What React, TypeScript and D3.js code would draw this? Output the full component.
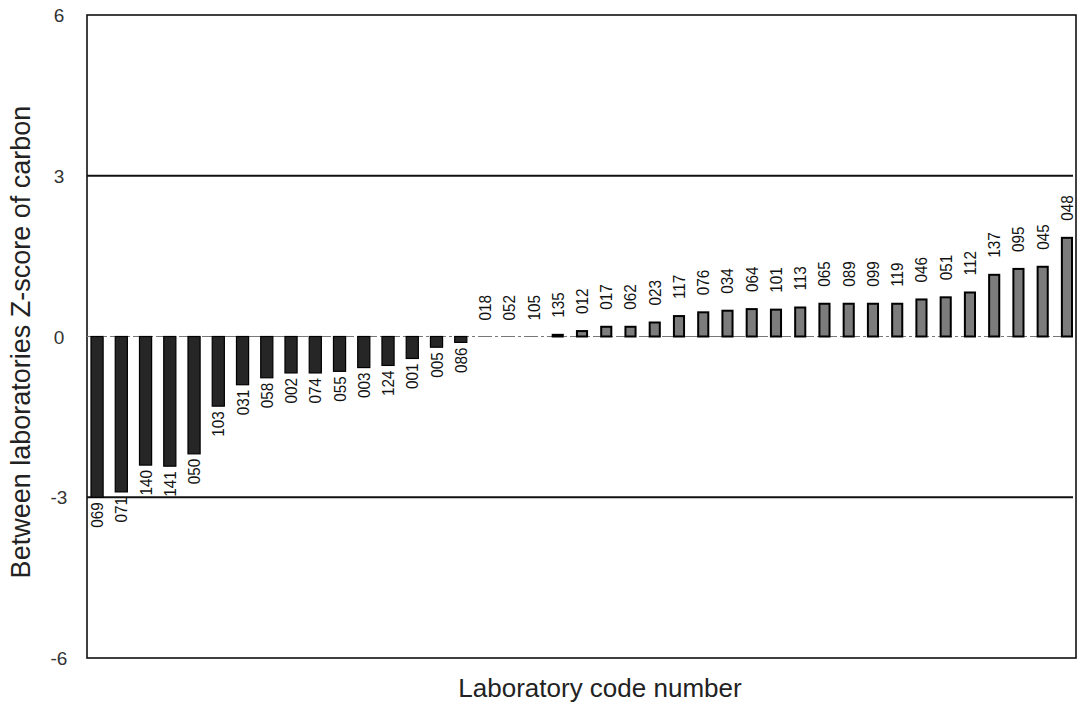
import React from "react";
import * as d3 from "d3";

const labCodes = ["069","071","140","141","050","103","031","058","002","074","055","003","124","001","005","086","018","052","105","135","012","017","062","023","117","076","034","064","101","113","065","089","099","119","046","051","112","137","095","045","048"];
const zScores = [-3.0,-2.9,-2.4,-2.42,-2.19,-1.3,-0.9,-0.77,-0.68,-0.68,-0.65,-0.58,-0.54,-0.41,-0.2,-0.11,0,0,0,0.05,0.12,0.2,0.2,0.28,0.4,0.47,0.5,0.53,0.52,0.56,0.63,0.63,0.63,0.63,0.71,0.75,0.84,1.17,1.28,1.32,1.86];
const yTicks = [-6, -3, 0, 3, 6];
const limitLines = [-3, 3];

const W = 1077, H = 703;
const L = 87, R = 1076, T = 15, B = 658;

export default function App() {
  const x = d3.scaleBand<string>().domain(labCodes).range([91, 1073]).paddingInner(0.5).paddingOuter(0);
  const y = d3.scaleLinear().domain([-6, 6]).range([B, T]);
  const font = "'Liberation Sans', Arial, sans-serif";
  return (
    <svg width={W} height={H} style={{ position: "absolute", left: 0, top: 0, background: "#fff" }} fontFamily={font}>
      <rect x={0} y={0} width={W} height={H} fill="#fff" />
      <rect x={L} y={T} width={R - L} height={B - T} fill="none" stroke="#111" strokeWidth={1.6} />
      {limitLines.map((v) => (
        <line key={v} x1={L} x2={R - 3} y1={y(v)} y2={y(v)} stroke="#111" strokeWidth={2} />
      ))}
      <line x1={L} x2={R} y1={y(0)} y2={y(0)} stroke="#777" strokeWidth={1} strokeDasharray="14 3 3 3" />
      {yTicks.map((t) => (
        <text key={t} x={59} y={y(t) + 7} textAnchor="middle" fontSize={19} fill="#333">{t}</text>
      ))}
      {labCodes.map((c, i) => {
        const v = zScores[i];
        const bx = x(c)!;
        const bw = x.bandwidth();
        const y0 = y(0), y1 = y(v);
        const top = Math.min(y0, y1);
        const h = Math.abs(y1 - y0);
        const cx = bx + bw / 2;
        const neg = v < 0;
        const ly = neg ? y1 + 5 : y1 - 16;
        return (
          <g key={c}>
            {h > 0.5 && (
              neg ? (
                <rect x={bx} y={top} width={bw} height={h} fill="#262626" stroke="#000" strokeWidth={1.2} />
              ) : (
                <rect x={bx + 1} y={top + 1} width={bw - 2} height={Math.max(h - 1, 1)} fill="#7c7c7c" stroke="#000" strokeWidth={2} />
              )
            )}
            <text transform={`translate(${cx + 6},${ly}) rotate(-90) scale(0.9,1)`} textAnchor={neg ? "end" : "start"} fontSize={17} fill="#111">{c}</text>
          </g>
        );
      })}
      <text transform={`translate(30,342) rotate(-90)`} textAnchor="middle" fontSize={27} fill="#222">Between laboratories Z-score of carbon</text>
      <text x={600} y={697} textAnchor="middle" fontSize={26} fill="#222">Laboratory code number</text>
    </svg>
  );
}
